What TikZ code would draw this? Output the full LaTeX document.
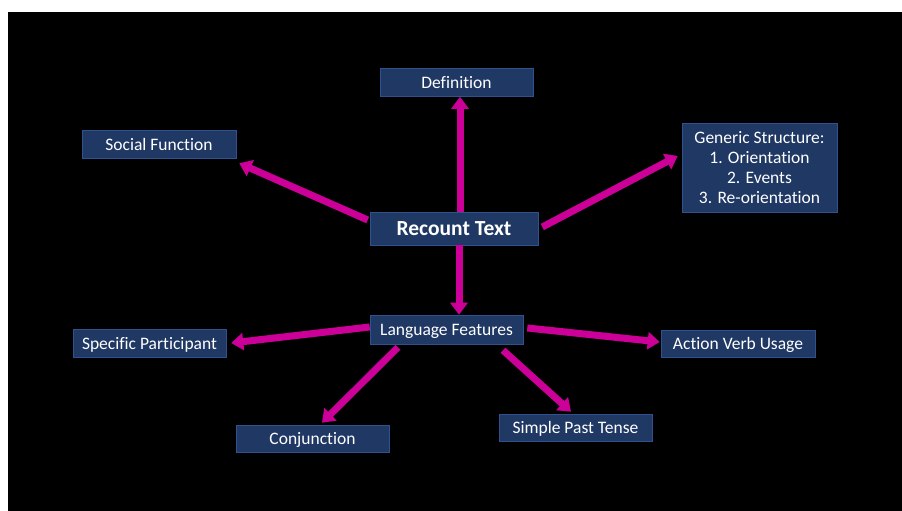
\documentclass[tikz,border=0pt]{standalone}
\usepackage{fontspec}
\setmainfont{Carlito}[Ligatures=NoCommon]
\usepackage{tikz}
\usetikzlibrary{arrows.meta}

\definecolor{boxblue}{RGB}{32,56,100}
\definecolor{boxline}{RGB}{47,82,143}
\definecolor{arrmag}{RGB}{204,0,153}

\tikzset{
  topic/.style={draw=boxline, line width=0.6pt, fill=boxblue, text=white,
    minimum width=153pt, minimum height=28pt, inner sep=2pt, align=center,
    text depth=0pt, font=\fontsize{17.5}{20}\selectfont},
  arr/.style={arrmag, line width=7pt, -{Triangle[width=17pt,length=12pt]}}
}

\begin{document}
\begin{tikzpicture}[x=1pt,y=1pt]
			\useasboundingbox (0,0) rectangle (902,511);
			\fill[white] (0,0) rectangle (902,511);
			\fill[black] (8,0) rectangle (902,499);
			\node[topic, minimum width=168pt, minimum height=33pt,
			  font=\fontsize{21.5}{24}\selectfont\bfseries] (rt) at (454,282.5) {Recount Text};
			\node[topic] (df) at (456.5,428.5) {Definition};
			\node[topic, minimum width=154pt] (sf) at (159,367) {Social Function};
			\node[topic, minimum width=155pt, minimum height=89pt] (gs) at (759.5,343.5)
			  {Generic Structure:\\1. Orientation\\2. Events\\3. Re-orientation};
			\node[topic, minimum height=29pt] (lf) at (446.5,181.5) {Language Features};
			\node[topic] (sp) at (149.5,168) {Specific Participant};
			\node[topic, minimum height=27pt] (cj) at (312.5,72.5) {Conjunction};
			\node[topic, minimum width=154pt, minimum height=27pt] (av) at (738,167.5) {Action Verb Usage};
			\node[topic, minimum height=27pt] (pt) at (575.5,83.5) {Simple Past Tense};
			\draw[arr] ([xshift=6pt]rt.north) -- ([xshift=6pt]rt.north |- df.south);
			\draw[arr] ([shift={(-2,8.5)}]rt.west) -- ([shift={(3,-5)}]sf.south east);
			\draw[arr] ([shift={(4,1.5)}]rt.east) -- ([shift={(-4,11.5)}]gs.west);
			\draw[arr] ([xshift=5pt]rt.south) -- ([xshift=5pt]rt.south |- lf.north);
			\draw[arr] ([yshift=2.5pt]lf.west) -- ([xshift=5pt]sp.east);
			\draw[arr] ([shift={(-48.5,-3)}]lf.south) -- ([shift={(9.5,2)}]cj.north);
			\draw[arr] ([shift={(4,1.5)}]lf.east) -- ([shift={(-1,1.5)}]av.west);
			\draw[arr] ([shift={(56.5,-6)}]lf.south) -- ([shift={(-4.5,2)}]pt.north);
		\end{tikzpicture}
\end{document}
